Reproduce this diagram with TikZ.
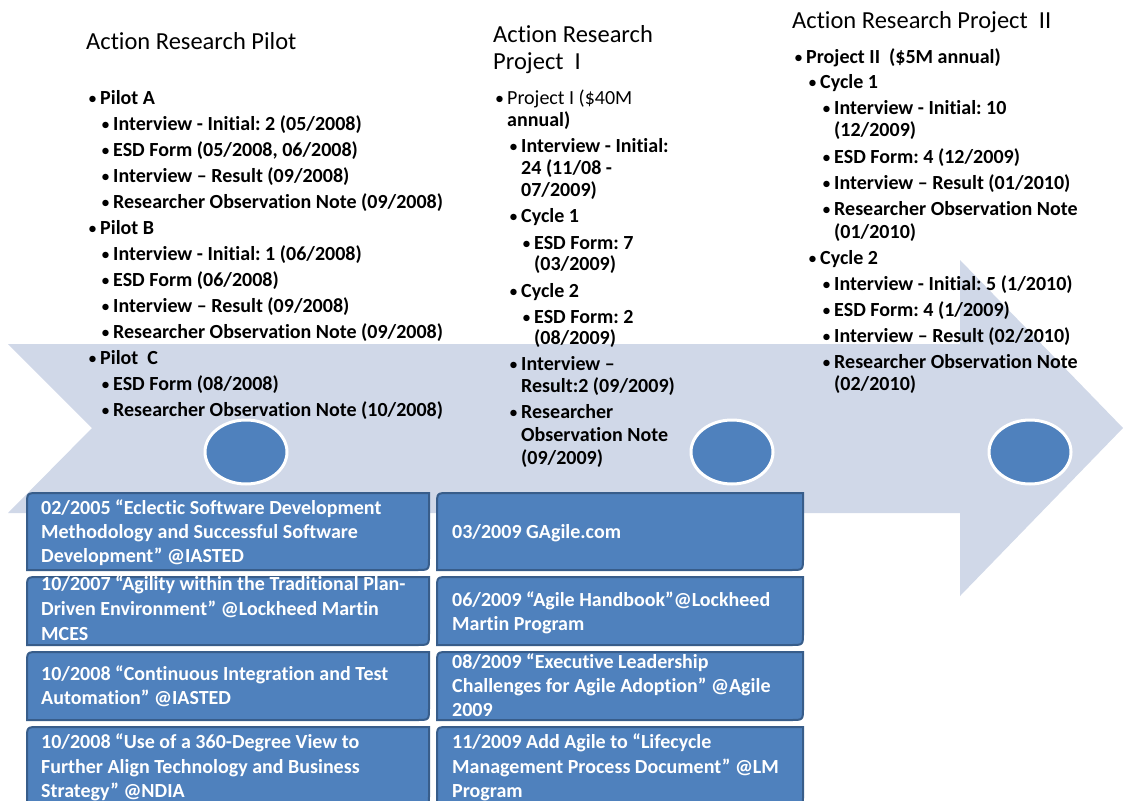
\documentclass[tikz,border=0pt]{standalone}
\usepackage{fontspec}
\setmainfont{Carlito}[Ligatures=NoCommon]
\frenchspacing
\definecolor{shaftfill}{HTML}{D0D8E8}
\definecolor{accent}{HTML}{4F81BD}
\definecolor{accentdark}{HTML}{385D8A}
% small bullet hung to the left of the item text
\newcommand\itembul{\llap{{\mdseries\fontsize{18}{18}\selectfont\textbullet}\hspace{3pt}}}
% publication box with rounded top-left and bottom-right corners
\newcommand\diagbox[5]{%
  \filldraw[pubbox] (#2,#5) -- (#2,#3+12) .. controls (#2,#3) .. (#2+12,#3)
    -- (#4,#3) -- (#4,#5-12) .. controls (#4,#5) .. (#4-12,#5) -- cycle;
  \coordinate (#1) at ($(#2,#3)!0.5!(#4,#5)$);}
\usetikzlibrary{calc}
\begin{document}
\begin{tikzpicture}[x=1pt,y=-1pt,
  title/.style={anchor=base west,inner sep=0pt,font=\fontsize{24.5}{28}\selectfont},
  item/.style={anchor=base west,inner sep=0pt,font=\fontsize{20}{24}\selectfont\bfseries},
  itemreg/.style={anchor=base west,inner sep=0pt,font=\fontsize{20}{24}\selectfont},
  pub/.style={anchor=base west,inner sep=0pt,text=white,font=\fontsize{20}{24}\selectfont\bfseries},
  pubbox/.style={fill=accent,draw=accentdark,line width=2pt},
  milestone/.style={fill=accent,draw=white,line width=3pt}]
\clip (0,0) rectangle (1123,800);

% timeline arrow
\fill[shaftfill] (8,344) -- (960,344) -- (960,260) -- (1123,428) -- (960,596)
  -- (960,513) -- (8,513) -- (92,428) -- cycle;

% milestones
\filldraw[milestone] (246,452) ellipse [x radius=41,y radius=32];
\filldraw[milestone] (732,452) ellipse [x radius=41,y radius=32];
\filldraw[milestone] (1030,452) ellipse [x radius=41,y radius=32];

% publication boxes
\diagbox{bl1}{27}{493}{429}{570}
\diagbox{bl2}{27}{577}{429}{645}
\diagbox{bl3}{27}{652}{429}{720}
\diagbox{bl4}{27}{727}{429}{808}
\diagbox{br1}{437}{493}{803}{570}
\diagbox{br2}{437}{577}{803}{645}
\diagbox{br3}{437}{652}{803}{720}
\diagbox{br4}{437}{727}{803}{808}

% pilot column
\node[title] (t1) at (86,50) {Action Research Pilot};
\node[item] (pa) at (100,104.5) {\itembul Pilot A};
\node[item] (pa1) at (113,130.5) {\itembul Interview - Initial: 2 (05/2008)};
\node[item] (pa2) at (113,156.5) {\itembul ESD Form (05/2008, 06/2008)};
\node[item] (pa3) at (113,182.5) {\itembul Interview – Result (09/2008)};
\node[item] (pa4) at (113,208.5) {\itembul Researcher Observation Note (09/2008)};
\node[item] (pb) at (100,234.5) {\itembul Pilot B};
\node[item] (pb1) at (113,260.5) {\itembul Interview - Initial: 1 (06/2008)};
\node[item] (pb2) at (113,286.5) {\itembul ESD Form (06/2008)};
\node[item] (pb3) at (113,312.5) {\itembul Interview – Result (09/2008)};
\node[item] (pb4) at (113,338.5) {\itembul Researcher Observation Note (09/2008)};
\node[item] (pc) at (100,364.5) {\itembul Pilot\ \ C};
\node[item] (pc1) at (113,390.5) {\itembul ESD Form (08/2008)};
\node[item] (pc2) at (113,416.5) {\itembul Researcher Observation Note (10/2008)};

% project I column
\node[title] (t2a) at (493,43) {Action Research};
\node[title] (t2b) at (493,69) {Project\ \ I};
\node[itemreg] (q) at (507,104) {\itembul Project I (\$40M};
\node[item] (qb) at (507,126) {annual)};
\node[item] (q1) at (521,152) {\itembul Interview - Initial:};
\node[item] (q1b) at (521,174) {24 (11/08 -};
\node[item] (q1c) at (521,196) {07/2009)};
\node[item] (q2) at (521,222) {\itembul Cycle 1};
\node[item] (q2a) at (534,249) {\itembul ESD Form: 7};
\node[item] (q2b) at (534,270.5) {(03/2009)};
\node[item] (q3) at (521,297) {\itembul Cycle 2};
\node[item] (q3a) at (534,323) {\itembul ESD Form: 2};
\node[item] (q3b) at (534,344.5) {(08/2009)};
\node[item] (q4) at (521,370) {\itembul Interview –};
\node[item] (q4b) at (521,392) {Result:2 (09/2009)};
\node[item] (q5) at (521,418) {\itembul Researcher};
\node[item] (q5b) at (521,441) {Observation Note};
\node[item] (q5c) at (521,464) {(09/2009)};

% project II column
\node[title] (t3) at (792,29) {Action Research Project\ \ II};
\node[item] (r) at (806,63.5) {\itembul Project II\ \ (\$5M annual)};
\node[item] (r1) at (820,88.5) {\itembul Cycle 1};
\node[item] (r1a) at (834,114.5) {\itembul Interview - Initial: 10};
\node[item] (r1ab) at (834,136.5) {(12/2009)};
\node[item] (r1b) at (834,163.5) {\itembul ESD Form: 4 (12/2009)};
\node[item] (r1c) at (834,189.5) {\itembul Interview – Result (01/2010)};
\node[item] (r1d) at (834,215.5) {\itembul Researcher Observation Note};
\node[item] (r1db) at (834,238) {(01/2010)};
\node[item] (r2) at (820,264.5) {\itembul Cycle 2};
\node[item] (r2a) at (834,290.5) {\itembul Interview - Initial: 5 (1/2010)};
\node[item] (r2b) at (834,316.5) {\itembul ESD Form: 4 (1/2009)};
\node[item] (r2c) at (834,342.5) {\itembul Interview – Result (02/2010)};
\node[item] (r2d) at (834,368.5) {\itembul Researcher Observation Note};
\node[item] (r2db) at (834,390.5) {(02/2010)};

% publications, left
\node[pub] (a1) at (41,514) {02/2005 “Eclectic Software Development};
\node[pub] (a2) at (41,538) {Methodology and Successful Software};
\node[pub] (a3) at (41,562) {Development” @IASTED};
\node[pub] (b1) at (41,590) {10/2007 “Agility within the Traditional Plan-};
\node[pub] (b2) at (41,615) {Driven Environment” @Lockheed Martin};
\node[pub] (b3) at (41,640) {MCES};
\node[pub] (c1) at (41,680.5) {10/2008 “Continuous Integration and Test};
\node[pub] (c2) at (41,704.5) {Automation” @IASTED};
\node[pub] (d1) at (41,748.5) {10/2008 “Use of a 360-Degree View to};
\node[pub] (d2) at (41,773) {Further Align Technology and Business};
\node[pub] (d3) at (41,797) {Strategy” @NDIA};

% publications, right
\node[pub] (e1) at (452,538) {03/2009 GAgile.com};
\node[pub] (f1) at (452,606) {06/2009 “Agile Handbook”@Lockheed};
\node[pub] (f2) at (452,630) {Martin Program};
\node[pub] (g1) at (452,668.5) {08/2009 “Executive Leadership};
\node[pub] (g2) at (452,692.5) {Challenges for Agile Adoption” @Agile};
\node[pub] (g3) at (452,716) {2009};
\node[pub] (h1) at (452,748.5) {11/2009 Add Agile to “Lifecycle};
\node[pub] (h2) at (452,773) {Management Process Document” @LM};
\node[pub] (h3) at (452,797) {Program};
\end{tikzpicture}
\end{document}
